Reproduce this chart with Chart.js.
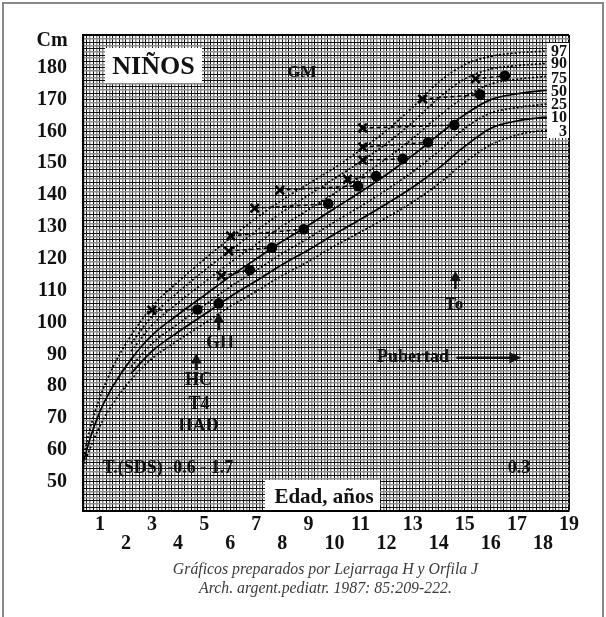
<!DOCTYPE html>
<html><head><meta charset="utf-8">
<script src="https://cdn.jsdelivr.net/npm/chart.js@4.4.1/dist/chart.umd.min.js"></script>
<style>
html,body{margin:0;padding:0;background:#fff;}
#wrap{position:relative;width:606px;height:617px;overflow:hidden;font-family:"Liberation Serif","Times New Roman",serif;background:#fff;}
#frame{position:absolute;left:2px;top:2px;width:602px;height:660px;border:2px solid #888;box-sizing:border-box;}
canvas{position:absolute;left:0;top:0;}
.t{position:absolute;font-weight:bold;color:#111;white-space:nowrap;line-height:1;transform:translate(-50%,-50%);}
.box{position:absolute;background:#fff;}
.pl{position:absolute;right:2px;font-weight:bold;font-size:16px;line-height:1;color:#111;transform:translateY(-50%);}
.cr{position:absolute;font-style:italic;color:#3a3a3a;font-size:15.8px;white-space:nowrap;line-height:1;transform:translate(-50%,-50%);}
</style></head>
<body>
<div id="wrap">
  <canvas id="c" width="606" height="617"></canvas>
  <div id="frame"></div>
  <div class="t" style="left:52px;top:39px;font-size:20px;">Cm</div>
  <div class="box" style="left:105px;top:48px;width:97px;height:35px;"></div>
  <div class="t" style="left:153.5px;top:66px;font-size:26px;">NIÑOS</div>
  <div class="t" style="left:302px;top:71px;font-size:17px;">GM</div>
  <div class="box" style="left:547px;top:43px;width:22px;height:95px;">
    <div class="pl" style="top:7.7px;">97</div>
    <div class="pl" style="top:20.3px;">90</div>
    <div class="pl" style="top:34.7px;">75</div>
    <div class="pl" style="top:48px;">50</div>
    <div class="pl" style="top:61px;">25</div>
    <div class="pl" style="top:74.3px;">10</div>
    <div class="pl" style="top:87.7px;">3</div>
  </div>
  <div class="t" style="left:454px;top:303px;font-size:17px;">To</div>
  <div class="t" style="left:413px;top:356px;font-size:18px;">Pubertad</div>
  <div class="t" style="left:220px;top:342px;font-size:18px;">GH</div>
  <div class="t" style="left:198.5px;top:379px;font-size:18px;">HC</div>
  <div class="t" style="left:199px;top:403px;font-size:18px;">T4</div>
  <div class="t" style="left:198.5px;top:424.5px;font-size:18px;">HAD</div>
  <div class="t" style="left:168px;top:467px;font-size:18px;">T.(SDS) -0.6 - 1.7</div>
  <div class="t" style="left:519px;top:467px;font-size:18px;">0.3</div>
  <div class="box" style="left:265px;top:480px;width:115px;height:30px;"></div>
  <div class="t" style="left:324px;top:496px;font-size:21px;">Edad, años</div>
  <div class="cr" style="left:325.5px;top:569px;">Gráficos preparados por Lejarraga H y Orfila J</div>
  <div class="cr" style="left:325.5px;top:588px;">Arch. argent.pediatr. 1987: 85:209-222.</div>
</div>
<script>
// ---- data ----
const ages = [0.36, 0.6, 1, 1.5, 2.2, 3, 4, 5, 6, 7, 8, 9, 10, 11, 12, 13, 14, 15, 16, 17, 18, 18.15];
const p3  = [54.5, 60.0, 67.5, 74.5, 82.1, 88.7, 94.4, 99.7, 105.1, 109.8, 114.8, 119.2, 124.0, 128.4, 133.0, 137.8, 143.6, 150.3, 155.8, 158.9, 160.3, 160.4];
const p10 = [null, null, null, null, 84.1, 91.0, 97.0, 102.5, 108.1, 113.1, 118.2, 122.8, 127.7, 132.4, 137.3, 142.5, 148.5, 155.3, 161.0, 163.3, 164.4, 164.5];
const p25 = [null, null, null, null, 86.2, 93.4, 99.6, 105.4, 111.2, 116.4, 121.7, 126.5, 131.6, 136.5, 141.7, 147.3, 153.8, 161.0, 165.8, 167.5, 168.5, 168.6];
const p50 = [56.0, 63.0, 72.0, 80.0, 88.5, 96.0, 102.5, 108.5, 114.5, 120.0, 125.5, 130.5, 135.8, 141.0, 146.5, 152.5, 159.0, 165.3, 170.0, 171.8, 172.8, 172.9];
const p75 = [null, null, null, null, 91.0, 99.2, 106.2, 112.6, 118.8, 124.6, 130.3, 135.4, 140.6, 145.8, 151.5, 157.8, 164.8, 170.8, 174.9, 176.4, 177.2, 177.3];
const p90 = [null, null, null, null, 93.4, 102.0, 109.5, 116.3, 122.6, 128.8, 134.7, 140.0, 145.2, 150.5, 156.2, 162.9, 170.5, 176.5, 179.6, 180.7, 181.3, 181.4];
const p97 = [57.5, 66.0, 76.5, 86.0, 96.0, 105.0, 112.8, 119.8, 126.5, 132.8, 138.5, 143.6, 148.6, 154.2, 160.3, 167.6, 175.5, 181.0, 183.6, 184.7, 185.2, 185.3];

// patient height (dots) and bone age (x markers)
const dotAge    = [4.74, 5.56, 6.75, 7.60, 8.82, 9.76, 10.90, 11.60, 12.62, 13.59, 14.60, 15.59, 16.54];
const dotHeight = [104.1, 106.0, 116.5, 123.5, 129.3, 137.3, 142.9, 146.0, 151.4, 156.6, 162.0, 171.6, 177.5];
const boneAge    = [2.99, 5.66, 5.94, 6.02, 6.94, 7.90, 10.50, 11.08, 11.08, 11.08, 13.38, 15.41];
const boneHeight = [103.9, 114.6, 122.4, 127.2, 135.9, 141.6, 145.0, 151.0, 155.1, 161.1, 170.2, 176.5];
const boneToDot  = [0, 2, 3, 4, 5, 6, 7, 8, 9, 10, 11, 12];

// annotation arrows (age, cm)
const upArrows = [
  {x: 5.56, from: 97.6, to: 103.1},
  {x: 4.70, from: 85.1, to: 90.3},
  {x: 14.64, from: 110.5, to: 116.2}
];
const rightArrow = {from: 14.68, to: 17.17, y: 88.95};

const xMin = 0.35, xMax = 19, yMin = 40.8, yMax = 190.3;

function series(vals){ return ages.map((a,i)=>({x:a, y:vals[i]})); }
const solidStyle = {borderColor:'#000', borderWidth:1.7, pointRadius:0, fill:false, cubicInterpolationMode:'monotone', spanGaps:false};
const dotStyle = {borderColor:'#000', borderWidth:1.7, borderDash:[2,2], pointRadius:0, fill:false, cubicInterpolationMode:'monotone', spanGaps:false};

const connectors = [];
boneAge.forEach((a,i)=>{
  const j = boneToDot[i];
  connectors.push({x:a, y:boneHeight[i]});
  connectors.push({x:dotAge[j], y:dotHeight[j]});
  connectors.push({x:dotAge[j], y:null});
});

const arrowPlugin = {
  id:'arrows',
  afterDatasetsDraw(chart){
    const {ctx, scales:{x, y}} = chart;
    ctx.save();
    ctx.fillStyle = '#111'; ctx.strokeStyle = '#111'; ctx.lineWidth = 2.5;
    upArrows.forEach(a=>{
      const px = x.getPixelForValue(a.x), pb = y.getPixelForValue(a.from), pt = y.getPixelForValue(a.to);
      ctx.beginPath(); ctx.moveTo(px, pb); ctx.lineTo(px, pt + 8); ctx.stroke();
      ctx.beginPath(); ctx.moveTo(px, pt); ctx.lineTo(px - 5.5, pt + 10); ctx.lineTo(px + 5.5, pt + 10); ctx.closePath(); ctx.fill();
    });
    const x1 = x.getPixelForValue(rightArrow.from), x2 = x.getPixelForValue(rightArrow.to), py = y.getPixelForValue(rightArrow.y);
    ctx.beginPath(); ctx.moveTo(x1, py); ctx.lineTo(x2 - 10, py); ctx.stroke();
    ctx.beginPath(); ctx.moveTo(x2, py); ctx.lineTo(x2 - 12, py - 5.7); ctx.lineTo(x2 - 12, py + 5.7); ctx.closePath(); ctx.fill();
    ctx.restore();
  }
};

const tickFont = {family:'"Liberation Serif","Times New Roman",serif', size:20, weight:'bold'};

new Chart(document.getElementById('c'), {
  type:'line',
  data:{ datasets:[
    Object.assign({label:'P97', data:series(p97)}, dotStyle),
    Object.assign({label:'P90', data:series(p90)}, dotStyle),
    Object.assign({label:'P75', data:series(p75)}, dotStyle),
    Object.assign({label:'P50', data:series(p50)}, solidStyle),
    Object.assign({label:'P25', data:series(p25)}, dotStyle),
    Object.assign({label:'P10', data:series(p10)}, solidStyle),
    Object.assign({label:'P3', data:series(p3)}, dotStyle),
    {label:'conn', data:connectors, borderColor:'#000', borderWidth:1.6, borderDash:[4,3], pointRadius:0, spanGaps:false, tension:0},
    {label:'Edad ósea', type:'scatter', data:boneAge.map((a,i)=>({x:a, y:boneHeight[i]})), pointStyle:'crossRot', pointRadius:6, borderColor:'#000', pointBorderWidth:2.6, showLine:false},
    {label:'Talla', type:'scatter', data:dotAge.map((a,i)=>({x:a, y:dotHeight[i]})), pointStyle:'circle', pointRadius:5.3, backgroundColor:'#000', borderColor:'#000', pointBorderWidth:0, showLine:false}
  ]},
  options:{
    responsive:false, animation:false, events:[],
    layout:{padding:{left:0, top:35, right:37, bottom:56}},
    plugins:{legend:{display:false}, tooltip:{enabled:false}},
    scales:{
      x:{
        type:'linear', min:xMin, max:xMax,
        afterBuildTicks: s => { const t=[]; for(let k=3;k<=152;k++) t.push({value:k/8}); s.ticks=t; },
        afterFit: s => { s.height = 50; },
        grid:{
          drawTicks:false,
          color: c => { const k=Math.round(c.tick.value*8); return k%2===0 ? '#111' : '#8c8c8c'; },
          lineWidth: c => { const k=Math.round(c.tick.value*8); return k===152 ? 2 : (k%2===0 ? 1 : 1.5); }
        },
        border:{display:true, color:'#000', width:2},
        ticks:{
          autoSkip:false, maxRotation:0, minRotation:0, padding:4, color:'#111',
          font:Object.assign({lineHeight:'19px'}, tickFont),
          callback: v => { if (Math.abs(v-Math.round(v))>1e-6) return ''; const n=Math.round(v); if(n<1) return ''; return n%2 ? String(n) : ['', String(n)]; }
        }
      },
      y:{
        type:'linear', min:yMin, max:yMax,
        afterBuildTicks: s => { const t=[]; for(let v=41; v<=190; v++) t.push({value:v}); t.push({value:yMax}); s.ticks=t; },
        afterFit: s => { s.width = 83; },
        grid:{
          drawTicks:false,
          color: c => { const v=c.tick.value; if (v>190) return '#000'; return (Math.round(v)%2===0) ? '#111' : '#8c8c8c'; },
          lineWidth: c => { const v=c.tick.value; if (v>190) return 2; return (Math.round(v)%2===0) ? 1 : 1.5; }
        },
        border:{display:true, color:'#000', width:2},
        ticks:{
          autoSkip:false, padding:16, color:'#111', font:tickFont,
          callback: v => (Math.abs(v%10)<1e-6 && v>=50 && v<=180) ? String(v) : ''
        }
      }
    }
  },
  plugins:[arrowPlugin]
});
</script>
</body></html>
